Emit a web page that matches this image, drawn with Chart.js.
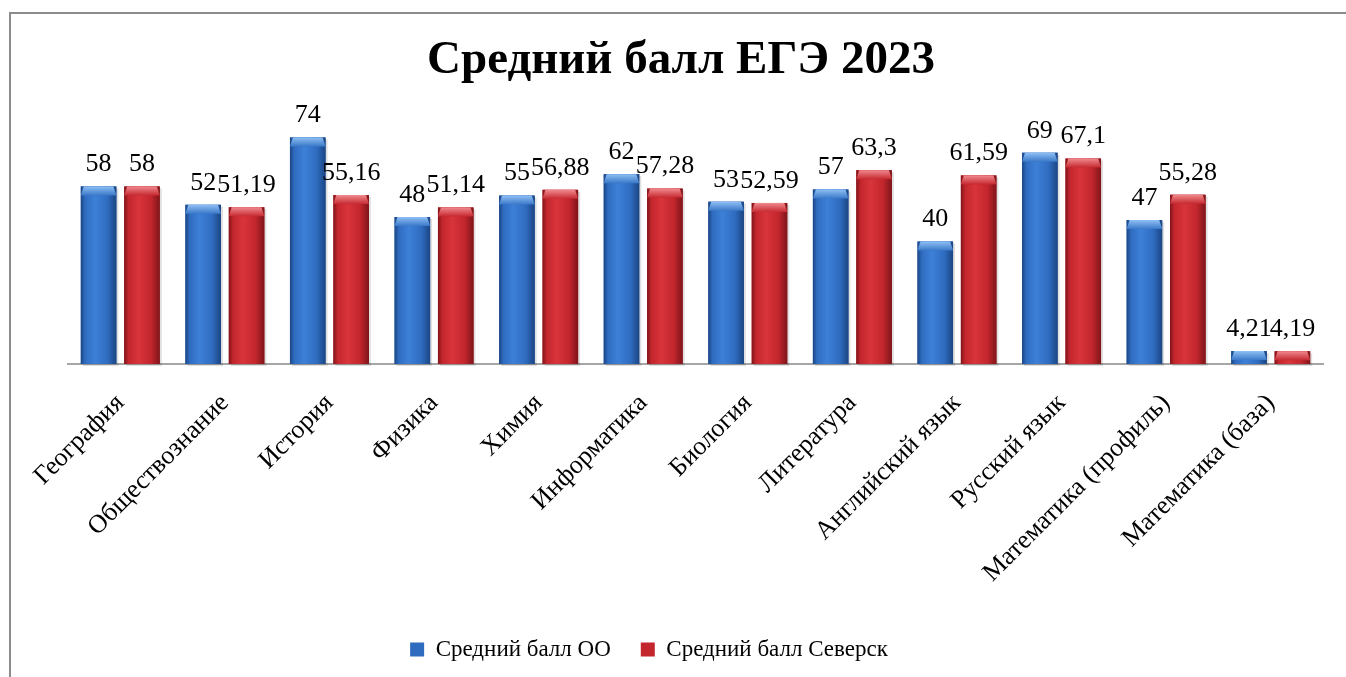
<!DOCTYPE html>
<html>
<head>
<meta charset="utf-8">
<script src="https://cdn.jsdelivr.net/npm/chart.js@4/dist/chart.umd.min.js"></script>
<style>
  html, body { margin: 0; padding: 0; background: #fff; }
  #wrap { position: relative; width: 1346px; height: 677px; }
  #c { display: block; }
  #frame { position: absolute; left: 9px; top: 12px; right: -10px; bottom: -10px;
           border-top: 2px solid #8c8c8c; border-left: 2px solid #8c8c8c; pointer-events: none; }
</style>
</head>
<body>
<div id="wrap">
  <canvas id="c" width="1346" height="677"></canvas>
  <div id="frame"></div>
</div>
<script>
const categories = ['География', 'Обществознание', 'История', 'Физика', 'Химия', 'Информатика',
  'Биология', 'Литература', 'Английский язык', 'Русский язык', 'Математика (профиль)', 'Математика (база)'];
const seriesNames = ['Средний балл ОО', 'Средний балл Северск'];
const avgSchool = [58, 52, 74, 48, 55, 62, 53, 57, 40, 69, 47, 4.21];
const avgSeversk = [58, 51.19, 55.16, 51.14, 56.88, 57.28, 52.59, 63.3, 61.59, 67.1, 55.28, 4.19];
const chartTitle = 'Средний балл ЕГЭ 2023';

const SERIF = "'Liberation Serif', 'Times New Roman', serif";
const LEGEND_CENTER_X = 649;
const palettes = [
  { base: '#2f6cc0', edge: '#1b4583', mid: '#3d80d8', cap1: '#8fc0f4', cap2: '#3a78c8' },
  { base: '#c3262d', edge: '#7e151a', mid: '#d8343b', cap1: '#f08a8e', cap2: '#c62a31' }
];

const fmt = v => String(v).replace('.', ',');

const legendShift = {
  id: 'legendShift',
  afterLayout(chart) {
    const lg = chart.legend;
    if (!lg) return;
    const shift = LEGEND_CENTER_X - (lg.left + lg.right) / 2;
    lg.left += shift;
    lg.right += shift;
  }
};

const barStyle = {
  id: 'barStyle',
  afterDatasetsDraw(chart) {
    const ctx = chart.ctx;
    chart.data.datasets.forEach((ds, i) => {
      const meta = chart.getDatasetMeta(i);
      const p = palettes[i];
      meta.data.forEach(el => {
        const { x, y, base, width } = el.getProps(['x', 'y', 'base', 'width'], true);
        const left = x - width / 2;
        const h = base - y;
        ctx.save();
        ctx.fillStyle = 'rgba(0,0,0,0.12)';
        ctx.fillRect(left + 2, y + 2, width, h);
        const g = ctx.createLinearGradient(left, 0, left + width, 0);
        g.addColorStop(0, p.edge);
        g.addColorStop(0.12, p.base);
        g.addColorStop(0.4, p.mid);
        g.addColorStop(0.75, p.base);
        g.addColorStop(1, p.edge);
        ctx.fillStyle = g;
        ctx.fillRect(left, y, width, h);
        const capH = Math.min(9, h);
        const cg = ctx.createLinearGradient(0, y, 0, y + capH);
        cg.addColorStop(0, p.cap1);
        cg.addColorStop(1, p.cap2);
        ctx.fillStyle = cg;
        ctx.beginPath();
        ctx.moveTo(left, y + capH);
        ctx.lineTo(left + 3, y);
        ctx.lineTo(left + width - 3, y);
        ctx.lineTo(left + width, y + capH);
        ctx.closePath();
        ctx.fill();
        ctx.restore();
      });
    });
    ctx.save();
    ctx.font = '26px ' + SERIF;
    ctx.fillStyle = '#000';
    ctx.textAlign = 'center';
    ctx.textBaseline = 'middle';
    chart.data.datasets.forEach((ds, i) => {
      const meta = chart.getDatasetMeta(i);
      meta.data.forEach((el, j) => {
        const { x, y } = el.getProps(['x', 'y'], true);
        ctx.fillText(fmt(ds.data[j]), x, y - 22);
      });
    });
    ctx.restore();
  }
};

new Chart(document.getElementById('c'), {
  type: 'bar',
  data: {
    labels: categories,
    datasets: [
      { label: seriesNames[0], data: avgSchool, backgroundColor: palettes[0].base, borderWidth: 0 },
      { label: seriesNames[1], data: avgSeversk, backgroundColor: palettes[1].base, borderWidth: 0 }
    ]
  },
  options: {
    responsive: false,
    animation: false,
    devicePixelRatio: 1,
    categoryPercentage: 0.83,
    barPercentage: 0.82,
    layout: { padding: { left: 39, right: 23, top: 0, bottom: 6 } },
    plugins: {
      title: {
        display: true,
        text: chartTitle,
        color: '#000',
        font: { family: SERIF, size: 47, weight: 'bold' },
        padding: { top: 33, bottom: 29.6 }
      },
      legend: {
        position: 'bottom',
        labels: {
          color: '#000',
          font: { family: SERIF, size: 23 },
          boxWidth: 14,
          boxHeight: 14,
          padding: 30
        }
      },
      tooltip: { enabled: false }
    },
    scales: {
      x: {
        grid: { display: false },
        border: { display: true, color: '#a6a6a6', width: 2 },
        ticks: {
          color: '#000',
          font: { family: SERIF, size: 26 },
          minRotation: 45,
          maxRotation: 45,
          autoSkip: false,
          padding: 16
        },
        afterFit: s => { s.height = 244; }
      },
      y: {
        display: true,
        min: 0,
        max: 80,
        grid: { display: false },
        border: { display: false },
        ticks: { display: false },
        afterFit: s => { s.width = 29; }
      }
    }
  },
  plugins: [barStyle, legendShift]
});
</script>
</body>
</html>
